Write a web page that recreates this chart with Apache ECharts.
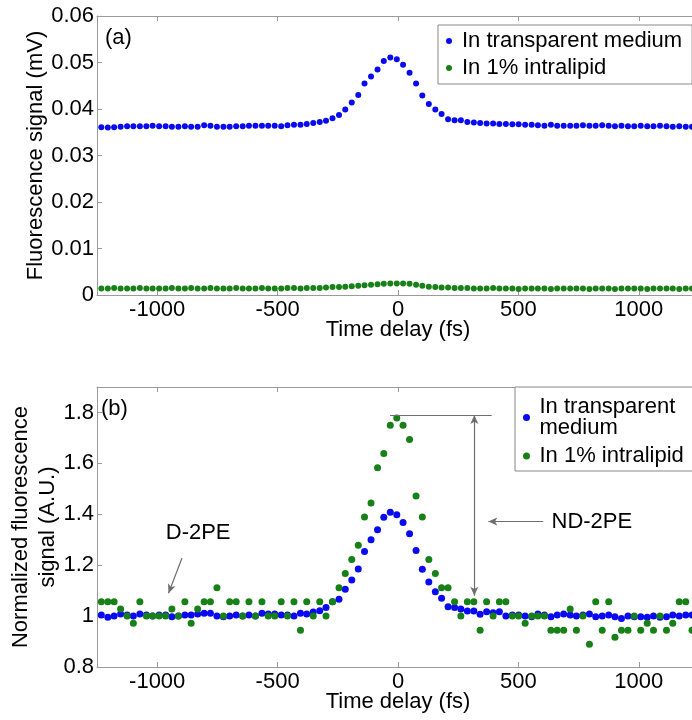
<!DOCTYPE html>
<html>
<head>
<meta charset="utf-8">
<script src="https://cdn.jsdelivr.net/npm/echarts@6/dist/echarts.min.js"></script>
<style>
  html, body { margin: 0; padding: 0; background: #fff; }
  #chart { width: 692px; height: 720px; }
</style>
</head>
<body>
<div id="chart"></div>
<script>
// Pump-probe time delays (fs), one sample per stage step
const delays = [
  -1232, -1205, -1179, -1152, -1125, -1099, -1072, -1045, -1019, -992,
  -965, -939, -912, -885, -859, -832, -805, -779, -752, -725,
  -699, -672, -645, -619, -592, -565, -539, -512, -485, -459,
  -432, -405, -379, -352, -325, -299, -272, -245, -219, -192,
  -165, -139, -112, -85, -59, -32, -5, 21, 48, 75,
  101, 128, 155, 181, 208, 235, 261, 288, 315, 341,
  368, 395, 421, 448, 475, 501, 528, 555, 581, 608,
  635, 661, 688, 715, 741, 768, 795, 821, 848, 875,
  901, 928, 955, 981, 1008, 1035, 1061, 1088, 1115, 1141,
  1168, 1195, 1221, 1248
];

// (a) raw fluorescence signal, mV
const transparentRaw = [
  0.0361, 0.0360, 0.0361, 0.0362, 0.0363, 0.0363, 0.0363, 0.0363, 0.0364, 0.0363,
  0.0363, 0.0362, 0.0362, 0.0363, 0.0362, 0.0362, 0.0365, 0.0364, 0.0362, 0.0362,
  0.0362, 0.0363, 0.0363, 0.0364, 0.0364, 0.0364, 0.0364, 0.0364, 0.0363, 0.0365,
  0.0366, 0.0366, 0.0368, 0.0370, 0.0372, 0.0375, 0.0380, 0.0387, 0.0399, 0.0414,
  0.0430, 0.0455, 0.0470, 0.0485, 0.0503, 0.0511, 0.0507, 0.0495, 0.0478, 0.0455,
  0.0429, 0.0411, 0.0399, 0.0389, 0.0378, 0.0376, 0.0376, 0.0372, 0.0371, 0.0370,
  0.0369, 0.0369, 0.0368, 0.0368, 0.0367, 0.0367, 0.0366, 0.0366, 0.0365, 0.0364,
  0.0366, 0.0364, 0.0364, 0.0364, 0.0364, 0.0365, 0.0364, 0.0364, 0.0365, 0.0364,
  0.0363, 0.0364, 0.0363, 0.0363, 0.0364, 0.0363, 0.0363, 0.0364, 0.0363, 0.0362,
  0.0363, 0.0362, 0.0362, 0.0362
];
const intralipidRaw = [
  0.0014, 0.0014, 0.0015, 0.0014, 0.0014, 0.0014, 0.0015, 0.0014, 0.0014, 0.0014,
  0.0014, 0.0015, 0.0014, 0.0014, 0.0015, 0.0014, 0.0014, 0.0015, 0.0014, 0.0014,
  0.0014, 0.0015, 0.0014, 0.0014, 0.0014, 0.0015, 0.0014, 0.0014, 0.0014, 0.0015,
  0.0015, 0.0014, 0.0015, 0.0015, 0.0015, 0.0016, 0.0017, 0.0017, 0.0018, 0.0019,
  0.0020, 0.0021, 0.0022, 0.0023, 0.0024, 0.0025, 0.0025, 0.0025, 0.0024, 0.0022,
  0.0020, 0.0018, 0.0017, 0.0016, 0.0016, 0.0015, 0.0015, 0.0015, 0.0014, 0.0014,
  0.0014, 0.0015, 0.0014, 0.0014, 0.0014, 0.0013, 0.0014, 0.0014, 0.0014, 0.0014,
  0.0013, 0.0014, 0.0014, 0.0014, 0.0014, 0.0014, 0.0013, 0.0014, 0.0014, 0.0014,
  0.0013, 0.0014, 0.0014, 0.0014, 0.0014, 0.0013, 0.0014, 0.0014, 0.0014, 0.0014,
  0.0013, 0.0014, 0.0014, 0.0014
];

// (b) signal normalized to the background level
const transparentNorm = [
  1.004, 0.995, 1.000, 1.008, 1.004, 1.000, 1.008, 1.004, 1.000, 1.004,
  1.004, 0.997, 1.000, 1.004, 1.004, 1.008, 1.011, 1.011, 1.000, 0.997,
  1.000, 1.004, 1.000, 1.004, 1.000, 1.011, 1.008, 1.008, 1.004, 1.004,
  1.000, 1.011, 1.008, 1.016, 1.021, 1.034, 1.056, 1.066, 1.105, 1.142,
  1.185, 1.254, 1.300, 1.339, 1.388, 1.408, 1.398, 1.368, 1.323, 1.258,
  1.184, 1.134, 1.096, 1.070, 1.037, 1.034, 1.028, 1.020, 1.020, 1.007,
  1.017, 1.013, 1.017, 1.000, 1.004, 1.004, 1.000, 0.997, 1.008, 1.004,
  0.997, 1.004, 1.008, 1.004, 1.000, 1.004, 1.008, 0.997, 1.000, 1.004,
  0.997, 0.991, 1.000, 0.997, 0.997, 0.995, 1.000, 0.995, 0.997, 1.004,
  1.000, 1.004, 1.004, 1.000
];
const intralipidNorm = [
  1.056, 1.056, 1.056, 1.028, 1.000, 0.972, 1.056, 1.000, 1.000, 1.000,
  1.000, 1.028, 1.000, 1.056, 0.972, 1.028, 1.056, 1.056, 1.111, 1.000,
  1.056, 1.056, 1.000, 1.056, 1.000, 1.056, 1.000, 1.000, 1.056, 1.000,
  1.056, 0.944, 1.056, 1.000, 1.056, 1.000, 1.056, 1.111, 1.167, 1.222,
  1.278, 1.389, 1.444, 1.583, 1.639, 1.750, 1.778, 1.750, 1.694, 1.472,
  1.389, 1.222, 1.167, 1.111, 1.111, 1.056, 1.000, 1.056, 1.056, 0.944,
  1.056, 1.000, 1.056, 1.056, 1.000, 1.000, 0.972, 1.000, 1.000, 1.000,
  0.944, 0.944, 0.944, 1.028, 0.944, 1.000, 0.889, 1.056, 0.944, 1.056,
  0.917, 0.944, 0.944, 1.000, 0.944, 0.972, 0.944, 1.000, 0.944, 0.972,
  1.056, 1.056, 0.944, 1.000
];

const seriesNames = ['In transparent medium', 'In 1% intralipid'];
const timeTicks = [-1000, -500, 0, 500, 1000];
const rawTicks = [0, 0.01, 0.02, 0.03, 0.04, 0.05, 0.06];
const normTicks = [0.8, 1, 1.2, 1.4, 1.6, 1.8];

// Annotation anchors in data units (fs, normalized signal)
const ndPeakLevel = 1.79;
const ndBaseLevel = 1.08;
const ndArrowDelay = 317;

const FONT = '"Liberation Sans", Arial, Helvetica, sans-serif';
const FRAME = '#9a9a9a';
const BLUE = '#0a0af0';
const GREEN = '#178017';

const pairs = vals => delays.map((t, i) => [t, vals[i]]);
const plain = v => String(v);

function timeAxis(grid, bottom) {
  return {
    gridIndex: grid, type: 'value', min: -1250, max: 1250,
    position: bottom ? 'bottom' : 'top',
    name: bottom ? 'Time delay (fs)' : '',
    nameLocation: 'middle', nameGap: 24, nameMoveOverlap: false,
    nameTextStyle: { fontSize: 22, color: '#000', fontFamily: FONT },
    axisLine: { show: true, onZero: false, lineStyle: { color: FRAME, width: 1 } },
    axisTick: { show: true, inside: true, length: 5, customValues: timeTicks, lineStyle: { color: FRAME } },
    axisLabel: { show: bottom, customValues: timeTicks, formatter: plain, fontSize: 22, color: '#000', fontFamily: FONT, margin: 4 },
    splitLine: { show: false }
  };
}

function valueAxis(grid, min, max, ticks, name, gap) {
  return {
    gridIndex: grid, type: 'value', min: min, max: max,
    name: name, nameLocation: 'middle', nameGap: gap, nameRotate: 90, nameMoveOverlap: false,
    nameTextStyle: { fontSize: 22, color: '#000', fontFamily: FONT, lineHeight: 27 },
    axisLine: { show: true, onZero: false, lineStyle: { color: FRAME, width: 1 } },
    axisTick: { show: true, inside: true, length: 5, customValues: ticks, lineStyle: { color: FRAME } },
    axisLabel: { customValues: ticks, formatter: plain, fontSize: 22, color: '#000', fontFamily: FONT, margin: 3 },
    splitLine: { show: false }
  };
}

const arrowLine = { color: '#6e6e6e', width: 1.2, type: 'solid' };

const option = {
  animation: false,
  backgroundColor: '#fff',
  textStyle: { fontFamily: FONT },
  grid: [
    { left: 97, top: 16, width: 602, height: 279, containLabel: false, outerBoundsMode: 'none' },
    { left: 97, top: 387, width: 602, height: 280, containLabel: false, outerBoundsMode: 'none' }
  ],
  xAxis: [timeAxis(0, true), timeAxis(0, false), timeAxis(1, true), timeAxis(1, false)],
  yAxis: [
    valueAxis(0, 0, 0.06, rawTicks, 'Fluorescence signal (mV)', 48),
    valueAxis(1, 0.8, 1.9, normTicks, 'Normalized fluorescence\nsignal (A.U.)', 36)
  ],
  legend: [
    {
      orient: 'vertical', left: 438, top: 25, data: seriesNames,
      icon: 'circle', itemWidth: 16, itemHeight: 6, itemGap: 5,
      padding: [5, 10, 5, 8], borderColor: '#888', borderWidth: 1, backgroundColor: '#fff',
      selectedMode: false,
      textStyle: { fontSize: 22, color: '#000', fontFamily: FONT }
    },
    {
      orient: 'vertical', left: 515, top: 387, data: seriesNames,
      icon: 'circle', itemWidth: 16, itemHeight: 7, itemGap: 6,
      padding: [9, 10, 4, 8], borderColor: '#888', borderWidth: 1, backgroundColor: '#fff',
      selectedMode: false,
      formatter: n => (n === seriesNames[0] ? 'In transparent\nmedium' : n),
      textStyle: { fontSize: 22, lineHeight: 21, color: '#000', fontFamily: FONT }
    }
  ],
  graphic: [
    { type: 'text', left: 105, top: 27, style: { text: '(a)', fontSize: 22, fill: '#000', fontFamily: FONT } },
    { type: 'text', left: 101, top: 398, style: { text: '(b)', fontSize: 22, fill: '#000', fontFamily: FONT } }
  ],
  series: [
    {
      name: seriesNames[0], type: 'scatter', xAxisIndex: 0, yAxisIndex: 0,
      symbolSize: 6, itemStyle: { color: BLUE, opacity: 1 }, data: pairs(transparentRaw)
    },
    {
      name: seriesNames[1], type: 'scatter', xAxisIndex: 0, yAxisIndex: 0,
      symbolSize: 6, itemStyle: { color: GREEN, opacity: 1 }, data: pairs(intralipidRaw)
    },
    {
      name: seriesNames[0], type: 'scatter', xAxisIndex: 2, yAxisIndex: 1,
      symbolSize: 7, itemStyle: { color: BLUE, opacity: 1 }, data: pairs(transparentNorm)
    },
    {
      name: seriesNames[1], type: 'scatter', xAxisIndex: 2, yAxisIndex: 1,
      symbolSize: 7, itemStyle: { color: GREEN, opacity: 1 }, data: pairs(intralipidNorm),
      markLine: {
        silent: true, animation: false,
        symbolSize: [6, 9],
        label: { show: false },
        lineStyle: arrowLine,
        data: [
          // level of the intralipid peak
          [{ coord: [-33, ndPeakLevel], symbol: 'none' }, { coord: [389, ndPeakLevel], symbol: 'none' }],
          // peak-to-background span
          [{ coord: [ndArrowDelay, ndPeakLevel], symbol: 'arrow' }, { coord: [ndArrowDelay, ndBaseLevel], symbol: 'arrow' }],
          // pointer from the ND-2PE label
          [{ coord: [603, 1.372], symbol: 'none' }, { coord: [375, 1.372], symbol: 'arrow' }],
          // pointer from the D-2PE label
          [{ coord: [-897, 1.228], symbol: 'none' }, { coord: [-953, 1.090], symbol: 'arrow' }]
        ]
      },
      markPoint: {
        silent: true, animation: false,
        symbol: 'circle', symbolSize: 0,
        label: { show: true, position: 'inside', formatter: '{b}', fontSize: 22, color: '#000', fontFamily: FONT },
        data: [
          { name: 'D-2PE', coord: [-830, 1.327] },
          { name: 'ND-2PE', coord: [805, 1.371] }
        ]
      }
    }
  ]
};

const chart = echarts.init(document.getElementById('chart'), null, { renderer: 'canvas' });
chart.setOption(option);
</script>
</body>
</html>
